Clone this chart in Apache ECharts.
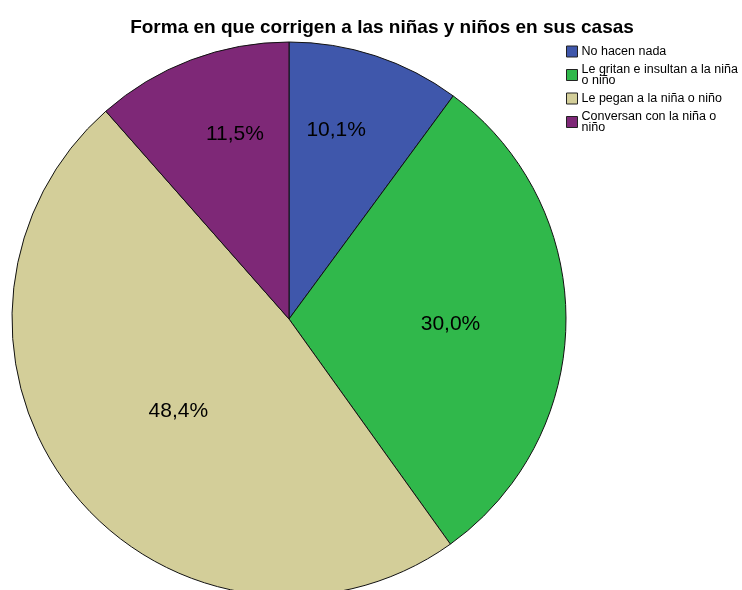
<!DOCTYPE html>
<html lang="es">
<head>
    <meta charset="UTF-8">
    <title>Forma en que corrigen</title>
    <script src="https://cdn.jsdelivr.net/npm/echarts@6/dist/echarts.min.js"></script>
</head>
<body style="margin:0;background:#fff">
<div id="main" style="width:742px;height:590px"></div>
<script type="text/javascript">
    // categorias y porcentajes
    var categories = ['No hacen nada', 'Le gritan e insultan a la niña o niño', 'Le pegan a la niña o niño', 'Conversan con la niña o niño'];
    var legendLabels = ['No hacen nada', 'Le gritan e insultan a la niña\no niño', 'Le pegan a la niña o niño', 'Conversan con la niña o\nniño'];
    var percents = [10.1, 30.0, 48.4, 11.5];
    var colors = ['#3f57ab', '#30b84b', '#d3ce99', '#7e2877'];
    // desplazamiento de las etiquetas como en el original
    var labelOffsets = [[3, -54], [20, 4], [0, 4], [-4, -52]];

    var data = categories.map(function (c, i) {
        return {
            name: c,
            value: percents[i],
            itemStyle: { color: colors[i] },
            label: { offset: labelOffsets[i] }
        };
    });

    var chart = echarts.init(document.getElementById('main'));
    var option = {
        animation: false,
        title: {
            text: 'Forma en que corrigen a las niñas y niños en sus casas',
            left: 377,
            textAlign: 'center',
            top: 13,
            textStyle: {
                fontFamily: 'Liberation Sans, Arial, sans-serif',
                fontSize: 19,
                fontWeight: 'bold',
                color: '#000'
            }
        },
        legend: {
            orient: 'vertical',
            left: 561,
            top: 40,
            itemWidth: 11,
            itemHeight: 11,
            itemGap: 5,
            icon: 'rect',
            itemStyle: { borderColor: '#222', borderWidth: 1 },
            data: categories,
            formatter: function (name) {
                return legendLabels[categories.indexOf(name)];
            },
            textStyle: {
                fontFamily: 'Liberation Sans, Arial, sans-serif',
                fontSize: 12.5,
                lineHeight: 11,
                color: '#000',
                padding: [0, 0, 0, -1]
            }
        },
        series: [{
            type: 'pie',
            center: [289, 319],
            radius: 277,
            startAngle: 90,
            clockwise: true,
            silent: true,
            itemStyle: { borderColor: '#111', borderWidth: 1 },
            label: {
                position: 'inside',
                fontFamily: 'Liberation Sans, Arial, sans-serif',
                fontSize: 21,
                color: '#000',
                formatter: function (p) {
                    return p.value.toFixed(1).replace('.', ',') + '%';
                }
            },
            labelLine: { show: false },
            data: data
        }]
    };
    chart.setOption(option);
</script>
</body>
</html>
